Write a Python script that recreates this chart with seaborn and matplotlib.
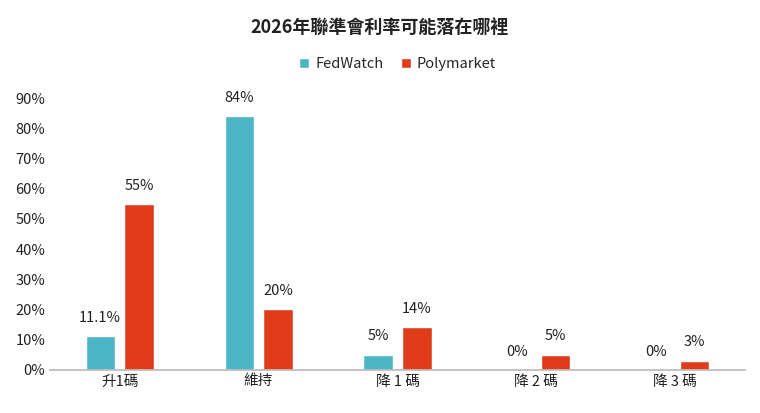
import matplotlib
matplotlib.use("Agg")
import matplotlib.pyplot as plt
import seaborn as sns
import pandas as pd
from matplotlib.ticker import PercentFormatter

categories = ["升1碼", "維持", "降 1 碼", "降 2 碼", "降 3 碼"]
fedwatch = [11.1, 84, 5, 0, 0]
polymarket = [55, 20, 14, 5, 3]
fed_labels = ["11.1%", "84%", "5%", "0%", "0%"]
poly_labels = ["55%", "20%", "14%", "5%", "3%"]

sns.set_theme(style="white")
plt.rcParams['font.family'] = ['Noto Sans CJK TC', 'DejaVu Sans']

df = pd.DataFrame({
    "cat": categories * 2,
    "val": fedwatch + polymarket,
    "series": ["FedWatch"] * 5 + ["Polymarket"] * 5,
})

fig, ax = plt.subplots(figsize=(7.6, 4.13), dpi=100)
fig.subplots_adjust(left=0.066, right=0.98, top=0.762, bottom=0.105)
sns.barplot(data=df, x="cat", y="val", hue="series", order=categories,
            palette=["#4DB6C6", "#E03C1C"], width=0.56, gap=0.25, ax=ax,
            saturation=1)
for cont, labs in zip(ax.containers, [fed_labels, poly_labels]):
    ax.bar_label(cont, labels=labs, padding=8, fontsize=10.5, color="#222222")
ax.set_ylim(0, 90)
ax.set_yticks(range(0, 91, 10))
ax.yaxis.set_major_formatter(PercentFormatter(decimals=0))
ax.set_xlabel("")
ax.set_ylabel("")
ax.tick_params(axis="both", labelsize=10.5, colors="#222222", length=0)
for s in ["top", "right", "left"]:
    ax.spines[s].set_visible(False)
ax.spines["bottom"].set_color("#BBBBBB")
ax.legend(loc="upper center", bbox_to_anchor=(0.5, 1.2), ncol=2, frameon=False,
          fontsize=10.5, handlelength=0.7, handleheight=0.7, columnspacing=1.2,
          handletextpad=0.4)
fig.suptitle("2026年聯準會利率可能落在哪裡", y=0.955, fontsize=13, fontweight="bold",
             color="#222222")
fig.savefig("out.png", dpi=100)
